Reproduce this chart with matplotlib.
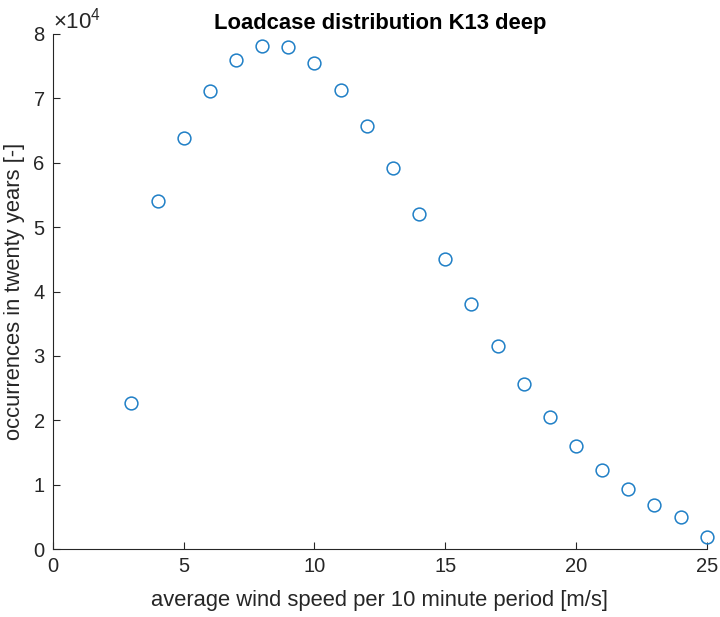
import numpy as np
import matplotlib
matplotlib.use("Agg")
import matplotlib.pyplot as plt
from matplotlib.ticker import FuncFormatter

plt.rcParams['font.family'] = ['Liberation Sans', 'DejaVu Sans']
plt.rcParams['mathtext.fontset'] = 'custom'
plt.rcParams['mathtext.rm'] = 'Liberation Sans'
plt.rcParams['mathtext.it'] = 'Liberation Sans:italic'

# wind speed bins [m/s] and occurrences in twenty years
wind_speed = [3, 4, 5, 6, 7, 8, 9, 10, 11, 12, 13, 14,
              15, 16, 17, 18, 19, 20, 21, 22, 23, 24, 25]
occurrences = [22700, 54000, 63900, 71200, 76000, 78200, 78000, 75500,
               71300, 65700, 59200, 52100, 45000, 38100, 31500, 25600,
               20500, 16000, 12300, 9300, 6900, 5000, 1900]

grey = '#262626'
fig = plt.figure(figsize=(7.2, 6.17), dpi=100)
ax = fig.add_axes([0.0736, 0.110, 0.908, 0.835])

ax.plot(wind_speed, occurrences, linestyle='none', marker='o', markersize=9.2,
        markerfacecolor='none', markeredgecolor='#1f7fc6', markeredgewidth=1.1,
        clip_on=False)

ax.set_xlim(0, 25)
ax.set_ylim(0, 80000)
ax.set_xticks([0, 5, 10, 15, 20, 25])
ax.set_yticks(np.arange(0, 80001, 10000))
ax.yaxis.set_major_formatter(FuncFormatter(lambda v, p: '%d' % round(v / 1e4)))

for s in ['top', 'right']:
    ax.spines[s].set_visible(False)
for s in ['left', 'bottom']:
    ax.spines[s].set_color(grey)
    ax.spines[s].set_linewidth(0.8)
ax.tick_params(direction='in', length=5, width=0.8, color=grey,
               labelcolor=grey, labelsize=14.5, pad=6)

ax.text(0.0, 1.0, r'$\times10^{4}$', transform=ax.transAxes, fontsize=16,
        color=grey, ha='left', va='bottom')

ax.set_xlabel('average wind speed per 10 minute period [m/s]', fontsize=15.8,
              color=grey, labelpad=10)
ax.set_ylabel('occurrences in twenty years [-]', fontsize=15.8, color=grey, labelpad=6)
ax.set_title('Loadcase distribution K13 deep', fontsize=15.8, fontweight='bold', pad=3)

fig.savefig('out.png', dpi=100)
